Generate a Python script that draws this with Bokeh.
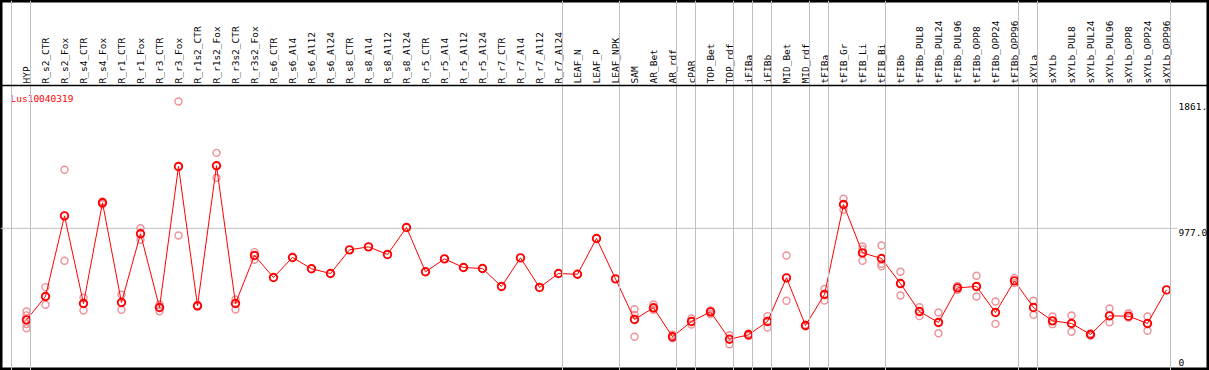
import math
from bokeh.plotting import figure
from bokeh.models import Range1d, Span
from bokeh.core.properties import value
from bokeh.embed import file_html
from bokeh.resources import INLINE

# ---------------- data ----------------
gene = "Lus10040319"
categories = [
    "HYP", "R_s2_CTR", "R_s2_Fox", "R_s4_CTR", "R_s4_Fox", "R_r1_CTR", "R_r1_Fox",
    "R_r3_CTR", "R_r3_Fox", "R_r1s2_CTR", "R_r1s2_Fox", "R_r3s2_CTR", "R_r3s2_Fox",
    "R_s6_CTR", "R_s6_Al4", "R_s6_Al12", "R_s6_Al24", "R_s8_CTR", "R_s8_Al4",
    "R_s8_Al12", "R_s8_Al24", "R_r5_CTR", "R_r5_Al4", "R_r5_Al12", "R_r5_Al24",
    "R_r7_CTR", "R_r7_Al4", "R_r7_Al12", "R_r7_Al24", "LEAF_N", "LEAF_P", "LEAF_NPK",
    "SAM", "AR_Bet", "AR_rdf", "cPAR", "TOP_Bet", "TOP_rdf", "iFIBa", "iFIBb",
    "MID_Bet", "MID_rdf", "tFIBa", "tFIB_Gr", "tFIB_Li", "tFIB_Bi", "tFIBb",
    "tFIBb_PUL8", "tFIBb_PUL24", "tFIBb_PUL96", "tFIBb_OPP8", "tFIBb_OPP24",
    "tFIBb_OPP96", "sXYLa", "sXYLb", "sXYLb_PUL8", "sXYLb_PUL24", "sXYLb_PUL96",
    "sXYLb_OPP8", "sXYLb_OPP24", "sXYLb_OPP96",
]
means = [
    339, 502, 1064, 453, 1155, 460, 939, 425, 1408, 437, 1413, 453, 788,
    634, 774, 695, 662, 827, 848, 795, 983, 674, 764, 704, 697,
    572, 771, 565, 662, 657, 906, 625,
    342, 423, 221, 328, 395, 204, 235, 328, 632, 300, 516, 1143, 806, 767, 592,
    397, 321, 562, 572, 390, 611, 425, 332, 314, 237, 367, 365, 314, 548,
]
replicates = [
    [397, 370, 310, 280], [567, 444], [1385, 751], [493, 404], [1165, 1145],
    [514, 409], [978, 897], [446, 399], [1861, 927], [441, 433], [1503, 1329],
    [481, 411], [811, 758],
    [], [], [], [], [], [], [], [], [], [], [], [], [], [], [], [], [], [], [],
    [413, 374, 221], [446, 410], [235, 210], [349, 307], [404, 380], [232, 169],
    [244, 226], [365, 286], [788, 472], [305, 295], [555, 474], [1183, 1106],
    [850, 830, 751], [857, 730, 713], [674, 509],
    [427, 365], [390, 246], [575, 548], [646, 502], [467, 311], [630, 595],
    [472, 374], [362, 309], [369, 256], [245, 230], [418, 323], [385, 355],
    [362, 263], [],
]
group_boundaries = [0, 1, 29, 32, 35, 36, 38, 39, 40, 42, 43, 46, 53, 54, 61]
tick_values = [0, 977, 1861]
tick_labels = ["0", "977.0", "1861."]

# ---------------- layout ----------------
W, H = 1209, 370
COL0, COLW = 26, 19          # px of first column centre, column pitch
ZERO_PX, UNITS_PER_PX = 368, 6.97
HEADER_PX = 85

def ypx(px):
    return (ZERO_PX - px) * UNITS_PER_PX

def xpx(px):
    return (px - COL0) / COLW

p = figure(width=W, height=H, output_backend="svg", toolbar_location=None,
           x_axis_type=None, y_axis_type=None, min_border=0,
           x_range=Range1d(xpx(0), xpx(W)), y_range=Range1d(ypx(H), ypx(0)))
p.grid.visible = False
p.outline_line_color = "black"
p.outline_line_width = 4
p.background_fill_color = "white"
p.border_fill_color = "white"

n = len(categories)
xs = list(range(n))
mono = value("DejaVu Sans Mono")

# group separators
for b in group_boundaries:
    p.add_layout(Span(location=b - 15 / 19, dimension="height",
                      line_color="#c0c0c0", line_width=1))

# horizontal gridline at middle tick
p.segment(x0=[xpx(0)], x1=[xpx(1177)], y0=[tick_values[1]], y1=[tick_values[1]],
          line_color="#c0c0c0", line_width=1)

# header bottom line
p.add_layout(Span(location=ypx(HEADER_PX), dimension="width",
                  line_color="black", line_width=1.5))

# header labels
p.text(x=xs, y=[ypx(HEADER_PX - 2)] * n, text=categories, angle=math.pi / 2,
       text_align="left", text_baseline="middle", text_font=mono,
       text_font_size="9.5px", text_color="black")

# replicates
rx, ry = [], []
for i, reps in enumerate(replicates):
    for v in reps:
        rx.append(i)
        ry.append(v)
p.scatter(rx, ry, marker="circle", size=7, fill_color=None,
          line_color="#ee8f98", line_width=1.4)

# mean line + markers
p.line(xs, means, line_color="#ff0000", line_width=1)
p.scatter(xs, means, marker="circle", size=7.5, fill_color=None,
          line_color="#ff0000", line_width=1.9)

# gene name
p.text(x=[xpx(10)], y=[ypx(92)], text=[gene], text_align="left", text_baseline="top",
       text_font=mono, text_font_size="9.5px", text_color="#ff0000")

# value labels on the right
for yv, t in zip(tick_values, tick_labels):
    bl = "bottom" if yv == 0 else "top"
    off = -3 if yv == 0 else (2 if yv == max(tick_values) else 1)
    p.text(x=[xpx(1178)], y=[yv], text=[t], text_align="left", text_baseline=bl,
           y_offset=off, text_font=mono, text_font_size="9.5px", text_color="black")

open("out.html", "w").write(file_html(p, INLINE))
